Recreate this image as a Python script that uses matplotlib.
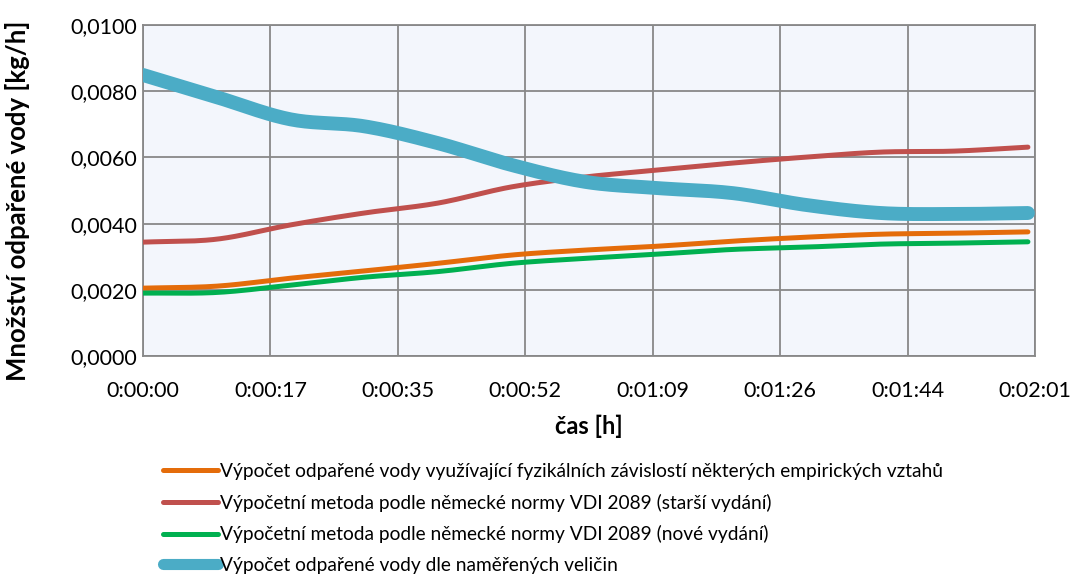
import numpy as np
import matplotlib
matplotlib.use("Agg")
import matplotlib.pyplot as plt
from matplotlib import font_manager as fm

# ---- data ----
time_s = [0, 10, 20, 30, 40, 50, 60, 70, 80, 90, 100, 110, 120]
orange = [0.00205, 0.00211, 0.00235, 0.00257, 0.00280, 0.00305, 0.00320, 0.00332, 0.00347, 0.00359, 0.00368, 0.00371, 0.00375]
red = [0.00344, 0.00353, 0.00396, 0.00432, 0.00462, 0.00511, 0.00541, 0.00562, 0.00583, 0.00601, 0.00616, 0.00619, 0.00631]
green = [0.00190, 0.00192, 0.00214, 0.00238, 0.00255, 0.00280, 0.00295, 0.00308, 0.00322, 0.00329, 0.00338, 0.00341, 0.00345]
blue = [0.00849, 0.00782, 0.00715, 0.00694, 0.00643, 0.00577, 0.00526, 0.00507, 0.00492, 0.00456, 0.00432, 0.00429, 0.00432]
labels = [
    "Výpočet odpařené vody využívající fyzikálních závislostí některých empirických vztahů",
    "Výpočetní metoda podle německé normy VDI 2089 (starší vydání)",
    "Výpočetní metoda podle německé normy VDI 2089 (nové vydání)",
    "Výpočet odpařené vody dle naměřených veličin",
]
x_ticklabels = ["0:00:00", "0:00:17", "0:00:35", "0:00:52", "0:01:09", "0:01:26", "0:01:44", "0:02:01"]
y_ticks = [0, 0.002, 0.004, 0.006, 0.008, 0.010]

names = {f.name for f in fm.fontManager.ttflist}
fam = "Lato" if "Lato" in names else "DejaVu Sans"
plt.rcParams['font.family'] = [fam, 'DejaVu Sans']

def smooth(x, y, n=20):
    x = np.asarray(x, float); y = np.asarray(y, float)
    P = np.column_stack([x, y])
    P = np.vstack([P[0] - (P[1] - P[0]), P, P[-1] + (P[-1] - P[-2])])
    out = []
    for i in range(1, len(P) - 2):
        p0, p1, p2, p3 = P[i-1], P[i], P[i+1], P[i+2]
        t = np.linspace(0, 1, n, endpoint=False)[:, None]
        c = 0.5 * ((2*p1) + (-p0 + p2)*t + (2*p0 - 5*p1 + 4*p2 - p3)*t**2 + (-p0 + 3*p1 - 3*p2 + p3)*t**3)
        out.append(c)
    out.append(P[-2][None, :])
    C = np.vstack(out)
    return C[:, 0], C[:, 1]

fig = plt.figure(figsize=(10.77, 5.83), dpi=100)
ax = fig.add_axes([143/1077, 1 - 356/583, (1035-143)/1077, (356-25)/583])
ax.set_facecolor("#F3F6FC")

xmax = 0.0014 * 86400
series = [(orange, "#E46C0A", 3.6), (red, "#C0504D", 3.6), (green, "#00B050", 3.6), (blue, "#4BACC6", 10)]
handles = []
for (vals, col, lw), lab in zip(series, labels):
    sx, sy = smooth(time_s, vals)
    h, = ax.plot(sx, sy, color=col, lw=lw, solid_capstyle="round", label=lab, zorder=3)
    handles.append(h)

ax.set_xlim(0, xmax)
ax.set_ylim(0, 0.010)
xt = np.arange(8) * 0.0002 * 86400
ax.set_xticks(xt)
ax.set_xticklabels(x_ticklabels)
ax.set_yticks(y_ticks)
ax.set_yticklabels([f"{v:.4f}".replace(".", ",") for v in y_ticks])
ax.grid(True, color="#888888", lw=1.3)
ax.set_axisbelow(True)
for s in ax.spines.values():
    s.set_color("#888888"); s.set_linewidth(1.3)
ax.tick_params(length=0, labelsize=15.5, colors="black")
ax.tick_params(axis="y", pad=4)
ax.tick_params(axis="x", pad=18)
ax.set_xlabel("čas [h]", fontsize=17, fontweight="bold", labelpad=10)
ax.set_ylabel("Množství odpařené vody [kg/h]", fontsize=18.5, fontweight="bold", labelpad=18)
ax.yaxis.set_label_coords(-0.127, 0.47)

leg = fig.legend(handles=handles, labels=labels, loc="upper left", bbox_to_anchor=(155/1077, 1 - 455/583),
                 frameon=False, fontsize=13.8, handlelength=2.9, handletextpad=0.1, labelspacing=0.72,
                 borderaxespad=0)
leg.get_lines()[3].set_linewidth(8)

fig.savefig("out.png", dpi=100)
